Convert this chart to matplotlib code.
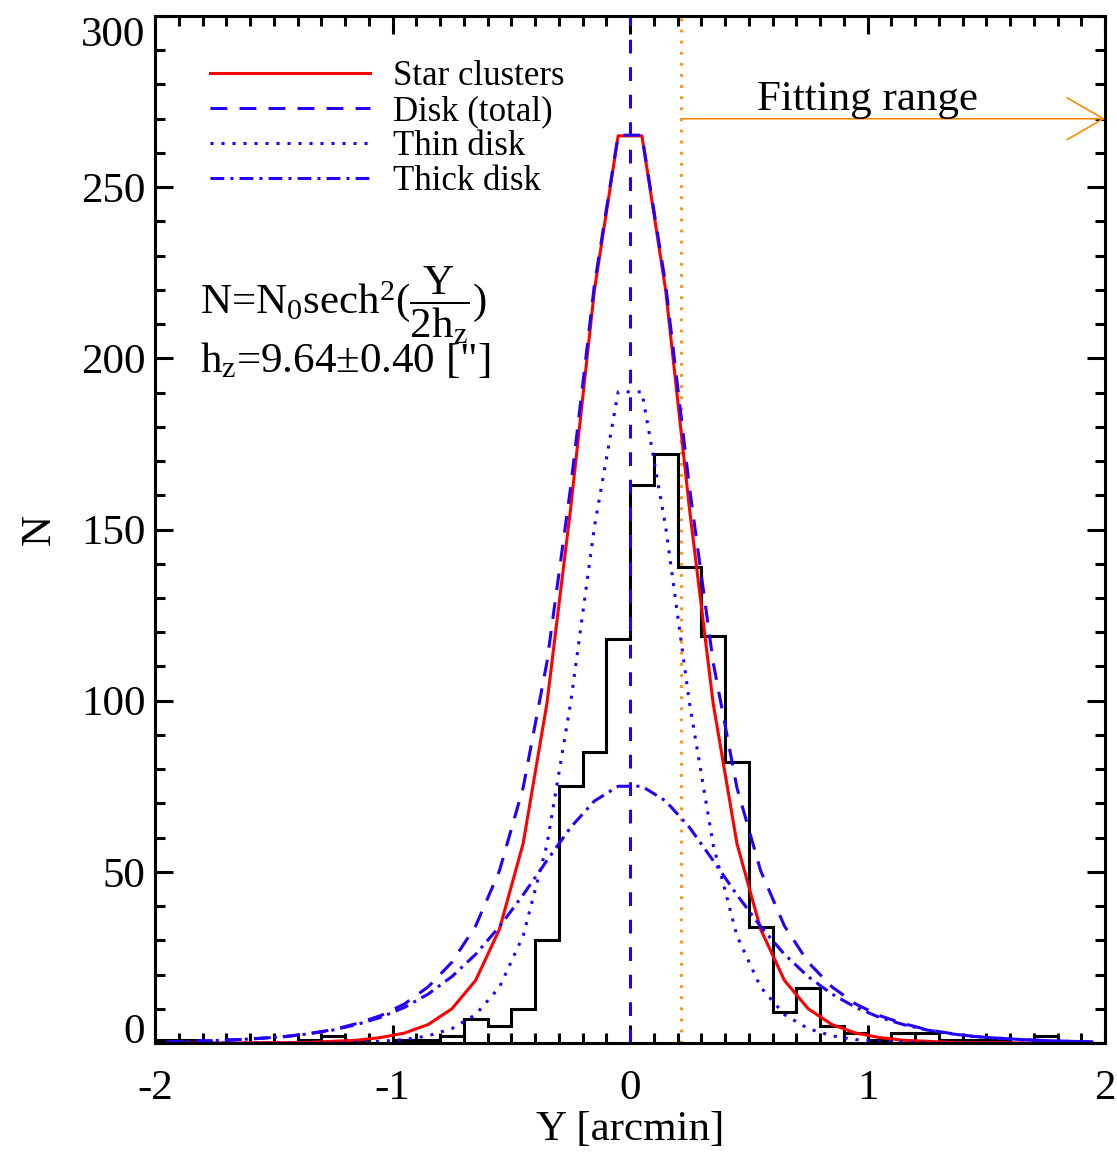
import numpy as np
import matplotlib
matplotlib.use("Agg")
import matplotlib.pyplot as plt
from matplotlib.ticker import MultipleLocator

plt.rcParams['font.family'] = ['Liberation Serif', 'DejaVu Serif']
plt.rcParams['mathtext.fontset'] = 'custom'
plt.rcParams['mathtext.rm'] = 'Liberation Serif'
plt.rcParams['mathtext.it'] = 'Liberation Serif:italic'
plt.rcParams['axes.unicode_minus'] = False

# histogram of cluster offsets, 0.1 arcmin bins from -2 to 2
bin_edges = np.round(np.arange(-2.0, 2.001, 0.1), 2)
counts = [1, 1, 0, 0, 0, 0, 1, 2, 1, 0,
          1, 1, 2, 7, 5, 10, 30, 75, 85, 118,
          163, 172, 139, 119, 82, 34, 9, 16, 5, 3,
          1, 3, 3, 1, 1, 1, 0, 2, 0, 0]

# model curves evaluated at bin centres
y_mid = np.round(bin_edges[:-1] + 0.05, 2)
star_clusters = [0.0, 0.0, 0.0, 0.0, 0.1, 0.1, 0.2, 0.5, 0.8, 1.6,
                 2.9, 5.4, 10.0, 18.3, 33.2, 58.3, 99.2, 156.2, 219.9, 265.0,
                 265.0, 219.9, 156.2, 99.2, 58.3, 33.2, 18.3, 10.0, 5.4, 2.9,
                 1.6, 0.8, 0.5, 0.2, 0.1, 0.1, 0.0, 0.0, 0.0, 0.0]
disk_total = [0.35, 0.5, 0.7, 1.0, 1.4, 1.9, 2.8, 3.9, 5.7, 8.0,
              11.4, 16.4, 23.6, 34.2, 50.3, 74.6, 111.2, 162.4, 221.5, 265.2,
              265.2, 221.5, 162.4, 111.2, 74.6, 50.3, 34.2, 23.6, 16.4, 11.4,
              8.0, 5.7, 3.9, 2.8, 1.9, 1.4, 1.0, 0.7, 0.5, 0.35]
thin_disk = [0.0, 0.0, 0.0, 0.0, 0.0, 0.0, 0.1, 0.1, 0.3, 0.5,
             1.0, 2.1, 4.2, 8.3, 16.3, 31.3, 57.9, 99.4, 150.8, 190.2,
             190.2, 150.8, 99.4, 57.9, 31.3, 16.3, 8.3, 4.2, 2.1, 1.0,
             0.5, 0.3, 0.1, 0.1, 0.0, 0.0, 0.0, 0.0, 0.0, 0.0]
thick_disk = [0.35, 0.5, 0.7, 1.0, 1.4, 1.9, 2.7, 3.8, 5.4, 7.5,
              10.4, 14.3, 19.4, 25.9, 34.0, 43.3, 53.3, 63.0, 70.7, 75.0,
              75.0, 70.7, 63.0, 53.3, 43.3, 34.0, 25.9, 19.4, 14.3, 10.4,
              7.5, 5.4, 3.8, 2.7, 1.9, 1.4, 1.0, 0.7, 0.5, 0.35]

fit_start = 0.215
arrow_level = 270

blue = '#2200ff'
orange = '#ff8c00'
lw = 2.2

fig = plt.figure(figsize=(11.17, 11.53), dpi=100)
ax = fig.add_axes([0.1388, 0.0954, 0.8505, 0.8907])

ax.stairs(counts, bin_edges, color='k', lw=lw)
ax.axvline(fit_start, color=orange, lw=2, linestyle=(0, (1, 3)))
ax.plot(y_mid, star_clusters, color='red', lw=lw, label='Star clusters')
ax.plot(y_mid, disk_total, color=blue, lw=lw, linestyle=(0, (5.5, 4)), label='Disk (total)')
ax.plot(y_mid, thin_disk, color=blue, lw=lw, linestyle=(0, (1, 2.6)), label='Thin disk')
ax.plot(y_mid, thick_disk, color=blue, lw=lw, linestyle=(0, (4.5, 2, 1, 2)), label='Thick disk')
ax.axvline(0, color=blue, lw=lw, linestyle=(0, (4.5, 4.5)))

ax.annotate('', xy=(2.0, arrow_level), xytext=(fit_start, arrow_level),
            arrowprops=dict(arrowstyle='->, head_length=2.6, head_width=1.5',
                            color=orange, lw=1.2, mutation_scale=10,
                            shrinkA=0, shrinkB=0), annotation_clip=False)
ax.text(1.0, 272.5, 'Fitting range', fontsize=31, ha='center', va='baseline')

ax.text(-1.81, 213, r'N=N$_0$sech$^2$($\dfrac{\mathrm{Y}}{\mathrm{2h_z}}$)',
        fontsize=31, ha='left', va='baseline')
ax.text(-1.81, 196.0, r'h$_\mathrm{z}$=9.64' + '\u00b1' + '0.40 ["]',
        fontsize=31, ha='left', va='baseline')

ax.legend(loc='upper left', bbox_to_anchor=(0.058, 0.957), frameon=False,
          fontsize=25, handlelength=4.6, handletextpad=0.66,
          labelspacing=0.06, borderpad=0, borderaxespad=0)

ax.set_xlim(-2, 2)
ax.set_ylim(0, 300)
ax.set_xticks([-2, -1, 0, 1, 2])
ax.set_yticks([0, 50, 100, 150, 200, 250, 300])
ax.xaxis.set_minor_locator(MultipleLocator(0.1))
ax.yaxis.set_minor_locator(MultipleLocator(10))
ax.tick_params(which='both', direction='in', top=True, right=True, width=2.2,
               labelsize=31)
ax.tick_params(which='major', length=13)
ax.tick_params(which='minor', length=7)
ax.tick_params(axis='x', pad=19)
ax.tick_params(axis='y', pad=7)
for sp in ax.spines.values():
    sp.set_linewidth(2.2)

ax.set_xlabel('Y [arcmin]', fontsize=31, labelpad=2)
ax.set_ylabel('N', fontsize=31, labelpad=16)

# keep the end labels inside the frame
ylabels = ax.get_yticklabels()
ylabels[0].set_va('baseline')
ylabels[-1].set_va('top')

fig.savefig('out.png', dpi=100)
